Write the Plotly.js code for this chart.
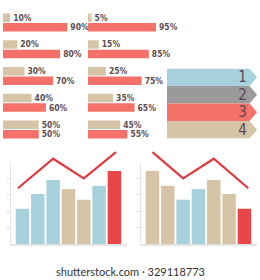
<!DOCTYPE html>
<html>
<head>
<meta charset="utf-8">
<script src="https://cdn.plot.ly/plotly-3.0.1.min.js"></script>
<style>html,body{margin:0;padding:0;background:#fff;}#chart{width:260px;height:280px;}</style>
</head>
<body>
<div id="chart"></div>
<script>
// ---- data ----
var pairCats = ['A', 'B', 'C', 'D', 'E'];
var leftTan = [10, 20, 30, 40, 50];
var leftRed = [90, 80, 70, 60, 50];
var rightTan = [5, 15, 25, 35, 45];
var rightRed = [95, 85, 75, 65, 55];

var arrowLabels = ['1', '2', '3', '4'];
var arrowColors = ['#a7d1dc', '#9a9a9a', '#f4716a', '#d6c4a7'];

var colCats = [0, 1, 2, 3, 4, 5, 6];
var leftBars = [43, 61, 78, 67, 54, 71, 89];
var leftBarColors = ['#a7d1dc', '#a7d1dc', '#a7d1dc', '#d6c4a7', '#d6c4a7', '#a7d1dc', '#e9464a'];
var leftLineX = [-0.3, 2, 4, 6.1];
var leftLineY = [68, 104, 80, 112];

var rightBars = [89, 71, 54, 67, 78, 61, 43];
var rightBarColors = ['#d6c4a7', '#d6c4a7', '#a7d1dc', '#a7d1dc', '#d6c4a7', '#d6c4a7', '#e9464a'];
var rightLineX = [0, 2, 4, 6.25];
var rightLineY = [112, 80, 104, 68];

var yTicks = [20, 40, 60, 80];

// ---- styles ----
var TAN = '#d6c4a7', SALMON = '#f4716a', LINE = '#e03a3f';
var NARROW = 'Liberation Sans Narrow, DejaVu Sans Condensed, sans-serif';
var labelFont = {family: NARROW, size: 8.5, color: '#5e4d4f', weight: 'bold'};
var W = 260, H = 280;
function px(x) { return x / W; }
function py(y) { return 1 - y / H; }

function hbar(x, cats, color, ax) {
  return {type: 'bar', orientation: 'h', x: x, y: cats, marker: {color: color},
    xaxis: 'x' + ax, yaxis: 'y' + ax, text: x.map(function (v) { return v + '%'; }),
    textposition: 'outside', cliponaxis: false, constraintext: 'none', textangle: 0,
    textfont: labelFont, hoverinfo: 'skip', showlegend: false};
}

var traces = [];
traces.push(hbar(leftTan, pairCats, TAN, ''));
traces.push(hbar(leftRed, pairCats, SALMON, ''));
traces.push(hbar(rightTan, pairCats, TAN, '2'));
traces.push(hbar(rightRed, pairCats, SALMON, '2'));

// arrows panel
var bandLen = 92;
traces.push({type: 'bar', orientation: 'h', x: arrowLabels.map(function () { return bandLen; }), y: arrowLabels,
  width: 1, offset: -0.5,
  marker: {color: arrowColors, line: {width: 0}}, text: arrowLabels, textposition: 'inside', insidetextanchor: 'end',
  textangle: 0, textfont: {family: NARROW, size: 15, color: '#5a4855'},
  constraintext: 'none', xaxis: 'x3', yaxis: 'y3', hoverinfo: 'skip', showlegend: false});

var shapes = arrowLabels.map(function (lab, i) {
  return {type: 'path', xref: 'x3', yref: 'y3',
    path: 'M ' + (bandLen - 0.3) + ' ' + (i - 0.5) + ' L 100 ' + i + ' L ' + (bandLen - 0.3) + ' ' + (i + 0.5) + ' Z',
    fillcolor: arrowColors[i], line: {width: 0}, layer: 'below'};
});

// bottom charts
function colBar(y, colors, ax) {
  return {type: 'bar', x: colCats, y: y, width: 0.88, marker: {color: colors, line: {width: 0}},
    xaxis: 'x' + ax, yaxis: 'y' + ax, hoverinfo: 'skip', showlegend: false};
}
traces.push(colBar(leftBars, leftBarColors, '4'));
traces.push({type: 'scatter', mode: 'lines', x: leftLineX, y: leftLineY, line: {color: LINE, width: 2.2}, xaxis: 'x5', yaxis: 'y5', hoverinfo: 'skip', showlegend: false});
traces.push(colBar(rightBars, rightBarColors, '6'));
traces.push({type: 'scatter', mode: 'lines', x: rightLineX, y: rightLineY, line: {color: LINE, width: 2.2}, xaxis: 'x7', yaxis: 'y7', hoverinfo: 'skip', showlegend: false});

function hidden(extra) {
  var o = {showgrid: false, zeroline: false, showline: false, showticklabels: false, ticks: '', fixedrange: true};
  for (var k in extra) o[k] = extra[k];
  return o;
}
var hbarY = [py(142.9), py(9.1)];
var colXrange = [-0.75, 6.82];
var axisStyle = {showline: true, linecolor: '#e4e4e4', linewidth: 1.5, showgrid: false, zeroline: false, showticklabels: false, fixedrange: true};

var layout = {
  width: W, height: H, margin: {l: 0, r: 0, t: 0, b: 0},
  paper_bgcolor: '#ffffff', plot_bgcolor: 'rgba(0,0,0,0)',
  barmode: 'group', bargap: 0.29, bargroupgap: 0.1,
  xaxis: hidden({domain: [px(3), px(74.5)], range: [0, 100]}),
  yaxis: hidden({domain: hbarY, autorange: 'reversed', type: 'category'}),
  xaxis2: hidden({domain: [px(88), px(159.6)], range: [0, 100], anchor: 'y2'}),
  yaxis2: hidden({domain: hbarY, autorange: 'reversed', type: 'category', anchor: 'x2'}),
  xaxis3: hidden({domain: [px(167), px(257)], range: [0, 100], anchor: 'y3'}),
  yaxis3: hidden({domain: [py(138.5), py(68.5)], range: [3.5, -0.5], type: 'category', anchor: 'x3'}),
  xaxis4: Object.assign({}, axisStyle, {domain: [px(11), px(127)], range: colXrange, anchor: 'y4', ticks: ''}),
  yaxis4: Object.assign({}, axisStyle, {domain: [py(244), py(162)], range: [0, 100], anchor: 'x4', tickvals: yTicks, ticks: 'outside', ticklen: 3, tickcolor: '#dcdcdc', tickwidth: 1}),
  xaxis5: hidden({domain: [px(11), px(127)], range: colXrange, anchor: 'y5'}),
  yaxis5: hidden({domain: [py(244), py(145.6)], range: [0, 120], anchor: 'x5'}),
  xaxis6: Object.assign({}, axisStyle, {domain: [px(141), px(257)], range: colXrange, anchor: 'y6', ticks: ''}),
  yaxis6: Object.assign({}, axisStyle, {domain: [py(244), py(162)], range: [0, 100], anchor: 'x6', tickvals: yTicks, ticks: 'outside', ticklen: 3, tickcolor: '#dcdcdc', tickwidth: 1}),
  xaxis7: hidden({domain: [px(141), px(257)], range: colXrange, anchor: 'y7'}),
  yaxis7: hidden({domain: [py(244), py(145.6)], range: [0, 120], anchor: 'x7'}),
  shapes: shapes,
  annotations: [{xref: 'paper', yref: 'paper', x: 0.5, y: py(271.5), text: 'shutterstock.com · 329118773', showarrow: false,
    font: {family: 'Lato, Open Sans, sans-serif', size: 11, color: '#333333'}, xanchor: 'center', yanchor: 'middle'}]
};

Plotly.newPlot('chart', traces, layout, {staticPlot: true, displayModeBar: false});
</script>
</body>
</html>
